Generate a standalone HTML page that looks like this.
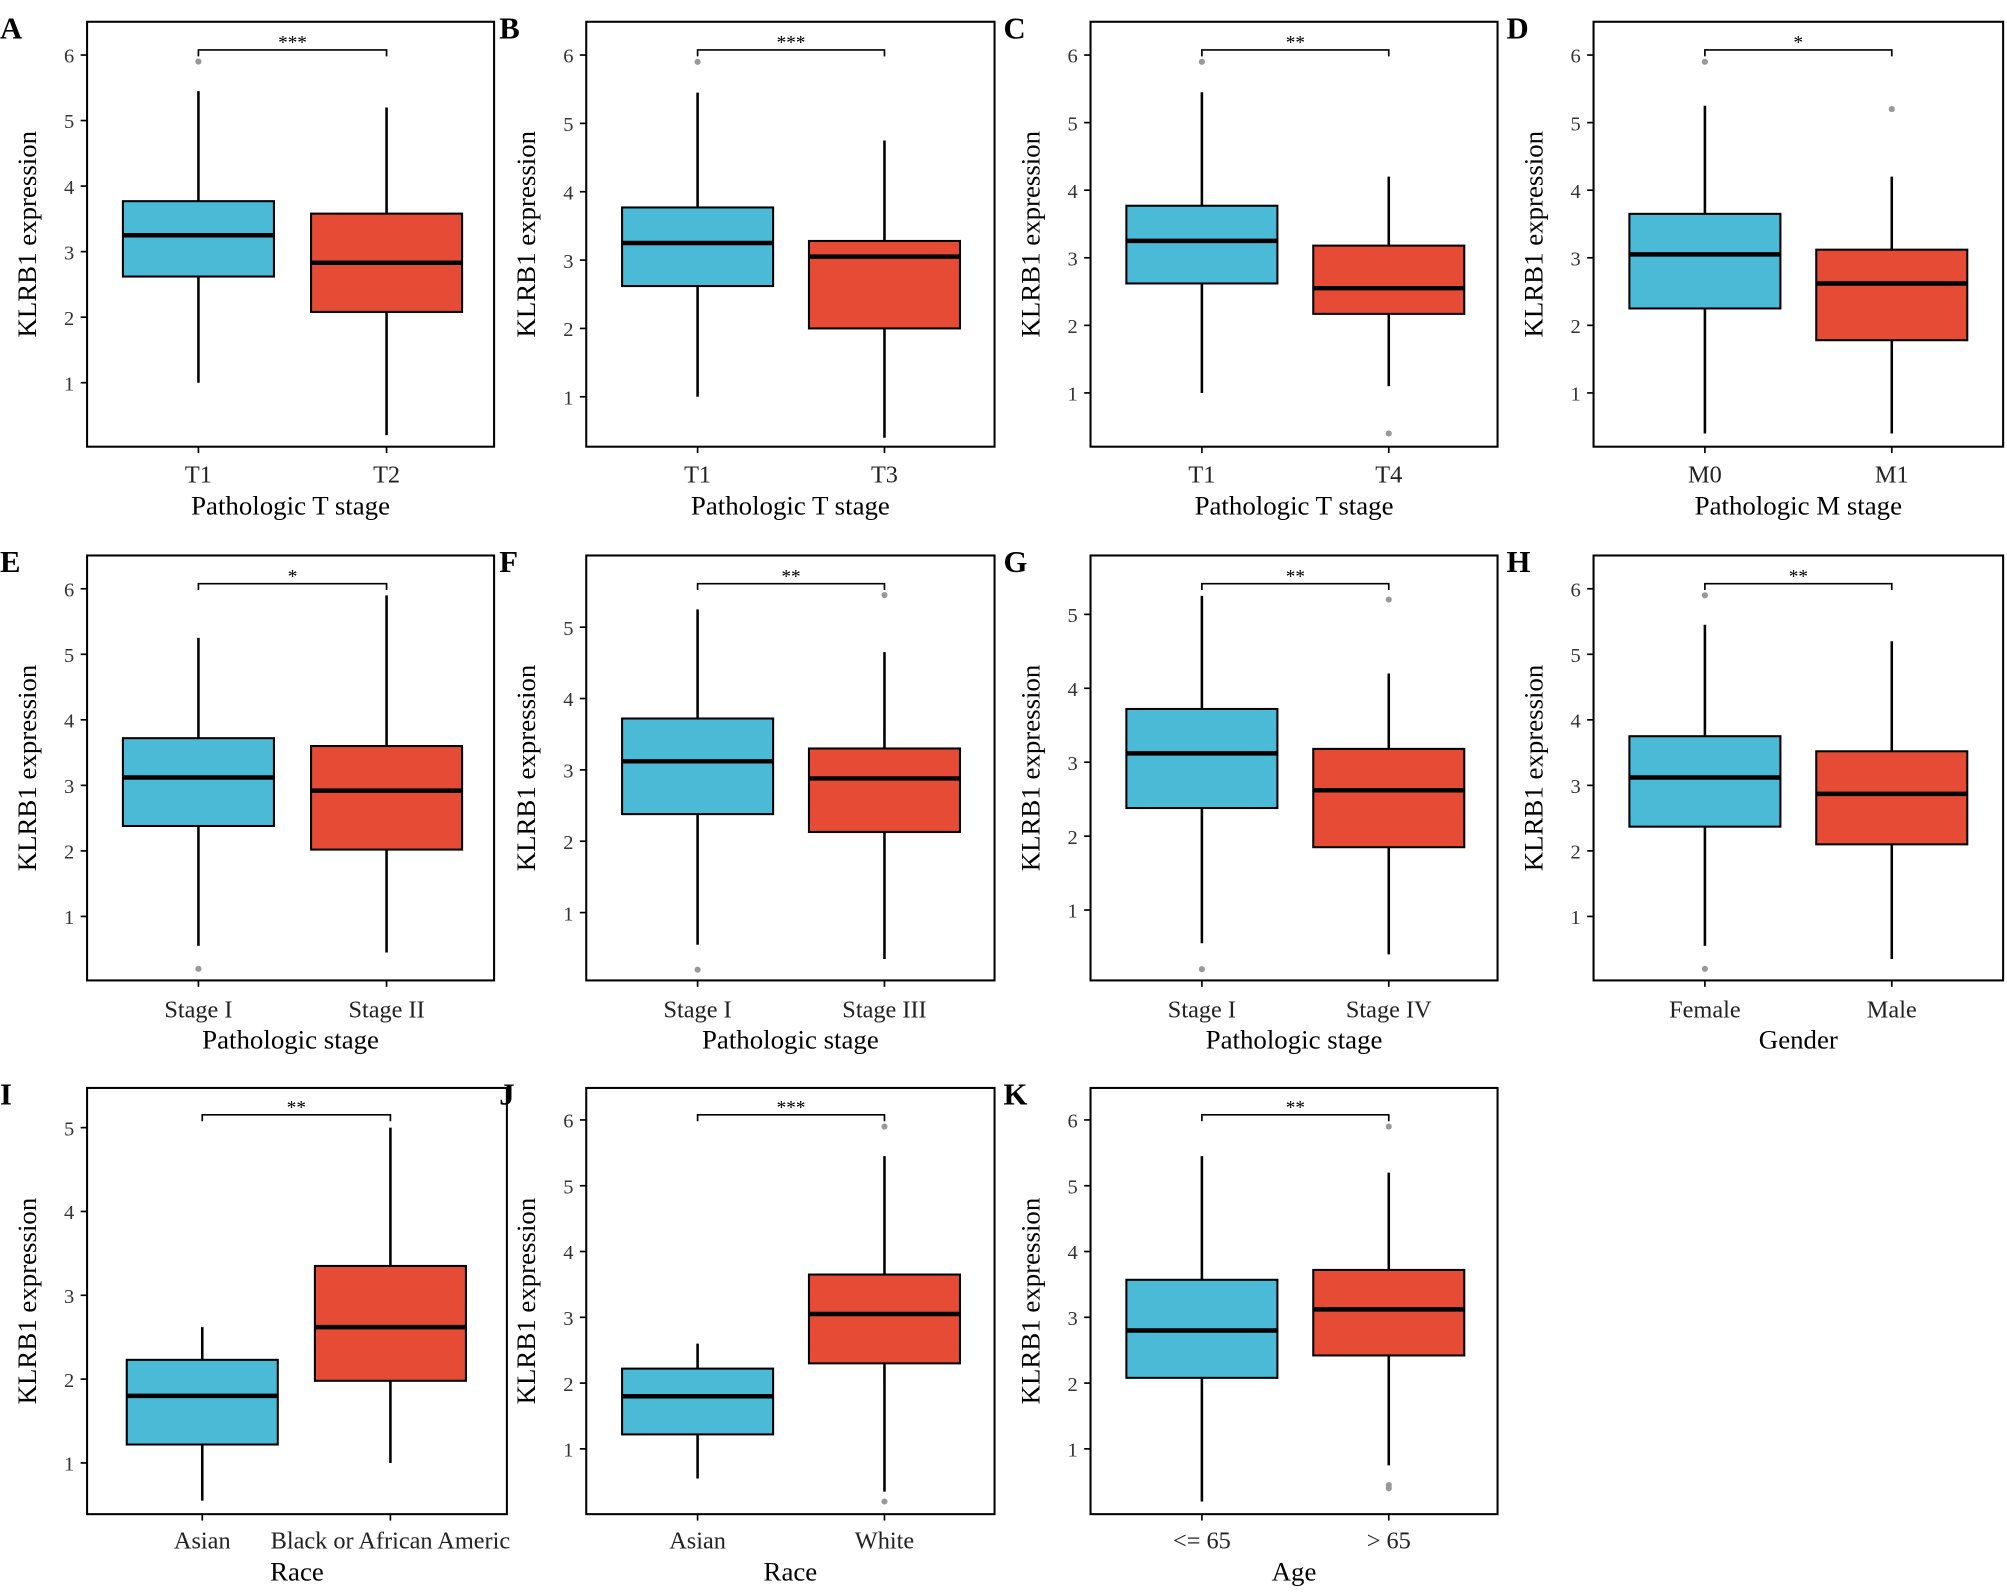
<!DOCTYPE html>
<html><head><meta charset="utf-8"><style>html,body{margin:0;padding:0;background:#fff}svg{display:block}</style></head>
<body>
<svg id="s" width="2007" height="1593" viewBox="0 0 1568 1244.6" xmlns="http://www.w3.org/2000/svg" font-family="Liberation Serif, serif"></svg>
<script>
const P=[
 {L:"A",x0:68,x1:386,row:0,c1:155,c2:302,y1:299,sc:51.2,ticks:[1,2,3,4,5,6],cats:["T1","T2"],xl:"Pathologic T stage",sig:"***",
  g:[[1.0,2.62,3.25,3.77,5.45,[5.9]],[0.2,2.08,2.83,3.58,5.2,[]]]},
 {L:"B",x0:458,x1:777,row:0,c1:545,c2:691,y1:310,sc:53.4,ticks:[1,2,3,4,5,6],cats:["T1","T3"],xl:"Pathologic T stage",sig:"***",
  g:[[1.0,2.62,3.25,3.77,5.45,[5.9]],[0.4,2.0,3.05,3.28,4.75,[]]]},
 {L:"C",x0:852,x1:1170,row:0,c1:939,c2:1085,y1:307,sc:52.8,ticks:[1,2,3,4,5,6],cats:["T1","T4"],xl:"Pathologic T stage",sig:"**",
  g:[[1.0,2.62,3.25,3.77,5.45,[5.9]],[1.1,2.17,2.55,3.18,4.2,[0.4]]]},
 {L:"D",x0:1245,x1:1565,row:0,c1:1332,c2:1478,y1:307,sc:52.8,ticks:[1,2,3,4,5,6],cats:["M0","M1"],xl:"Pathologic M stage",sig:"*",
  g:[[0.4,2.25,3.05,3.65,5.25,[5.9]],[0.4,1.78,2.62,3.12,4.2,[5.2]]]},
 {L:"E",x0:68,x1:386,row:1,c1:155,c2:302,y1:716,sc:51.2,ticks:[1,2,3,4,5,6],cats:["Stage I","Stage II"],xl:"Pathologic stage",sig:"*",
  g:[[0.55,2.38,3.12,3.72,5.25,[0.2]],[0.45,2.02,2.92,3.6,5.9,[]]]},
 {L:"F",x0:458,x1:777,row:1,c1:545,c2:691,y1:713,sc:55.75,ticks:[1,2,3,4,5],cats:["Stage I","Stage III"],xl:"Pathologic stage",sig:"**",
  g:[[0.55,2.38,3.12,3.72,5.25,[0.2]],[0.35,2.13,2.88,3.3,4.65,[5.45]]]},
 {L:"G",x0:852,x1:1170,row:1,c1:939,c2:1085,y1:711,sc:57.75,ticks:[1,2,3,4,5],cats:["Stage I","Stage IV"],xl:"Pathologic stage",sig:"**",
  g:[[0.55,2.38,3.12,3.72,5.25,[0.2]],[0.4,1.85,2.62,3.18,4.2,[5.2]]]},
 {L:"H",x0:1245,x1:1565,row:1,c1:1332,c2:1478,y1:716,sc:51.2,ticks:[1,2,3,4,5,6],cats:["Female","Male"],xl:"Gender",sig:"**",
  g:[[0.55,2.37,3.12,3.75,5.45,[5.9,0.2]],[0.35,2.1,2.87,3.52,5.2,[]]]},
 {L:"I",x0:68,x1:396,row:2,c1:158,c2:305,y1:1143,sc:65.5,ticks:[1,2,3,4,5],cats:["Asian","Black or African Americ"],xl:"Race",sig:"**",
  g:[[0.55,1.22,1.8,2.23,2.62,[]],[1.0,1.98,2.62,3.35,5.0,[]]]},
 {L:"J",x0:458,x1:777,row:2,c1:545,c2:691,y1:1132,sc:51.4,ticks:[1,2,3,4,5,6],cats:["Asian","White"],xl:"Race",sig:"***",
  g:[[0.55,1.22,1.8,2.22,2.6,[]],[0.35,2.3,3.05,3.65,5.45,[5.9,0.2]]]},
 {L:"K",x0:852,x1:1170,row:2,c1:939,c2:1085,y1:1132,sc:51.4,ticks:[1,2,3,4,5,6],cats:["<= 65","> 65"],xl:"Age",sig:"**",
  g:[[0.2,2.08,2.8,3.57,5.45,[]],[0.75,2.42,3.12,3.72,5.2,[5.9,0.45,0.4]]]},
];
const rows=[{t:17,b:349,br:39,tl:377,xt:402},{t:434,b:766,br:456,tl:795,xt:819},{t:850,b:1183,br:871,tl:1210,xt:1235}];
let h="";
const esc=s=>s.replace(/&/g,"&amp;").replace(/</g,"&lt;").replace(/>/g,"&gt;");
for(const p of P){
 const r=rows[p.row]; const Y=v=>p.y1-(v-1)*p.sc;
 h+=`<text x="${p.x0-68}" y="${r.t+13}" font-size="24" font-weight="bold">${p.L}</text>`;
 h+=`<rect x="${p.x0}" y="${r.t}" width="${p.x1-p.x0}" height="${r.b-r.t}" fill="none" stroke="#000" stroke-width="1.6"/>`;
 for(const t of p.ticks){const y=Y(t);h+=`<line x1="${p.x0-5}" x2="${p.x0}" y1="${y}" y2="${y}" stroke="#000" stroke-width="1.3"/><text x="${p.x0-10}" y="${y+6}" font-size="16" text-anchor="end" fill="#333">${t}</text>`;}
 const cy=(r.t+r.b)/2;
 h+=`<text transform="translate(${p.x0-40},${cy}) rotate(-90)" font-size="21" text-anchor="middle">KLRB1 expression</text>`;
 const cs=[p.c1,p.c2],cols=["#4BBAD6","#E64B35"];
 for(let i=0;i<2;i++){const c=cs[i],g=p.g[i],w=59;
  h+=`<line x1="${c}" x2="${c}" y1="${Y(g[0])}" y2="${Y(g[4])}" stroke="#000" stroke-width="2"/>`;
  h+=`<rect x="${c-w}" y="${Y(g[3])}" width="${2*w}" height="${Y(g[1])-Y(g[3])}" fill="${cols[i]}" stroke="#000" stroke-width="1.6"/>`;
  h+=`<line x1="${c-w}" x2="${c+w}" y1="${Y(g[2])}" y2="${Y(g[2])}" stroke="#000" stroke-width="3.5"/>`;
  for(const o of g[5])h+=`<circle cx="${c}" cy="${Y(o)}" r="2.4" fill="#999"/>`;
  h+=`<line x1="${c}" x2="${c}" y1="${r.b}" y2="${r.b+5}" stroke="#000" stroke-width="1.3"/>`;
  h+=`<text x="${c}" y="${r.tl}" font-size="19" text-anchor="middle" fill="#222">${esc(p.cats[i])}</text>`;
 }
 h+=`<polyline points="${p.c1},${r.br+5} ${p.c1},${r.br} ${p.c2},${r.br} ${p.c2},${r.br+5}" fill="none" stroke="#000" stroke-width="1.3"/>`;
 h+=`<text x="${(p.c1+p.c2)/2}" y="${r.br-1}" font-size="15" text-anchor="middle">${p.sig}</text>`;
 h+=`<text x="${(p.x0+p.x1)/2}" y="${r.xt}" font-size="21" text-anchor="middle">${p.xl}</text>`;
}
document.getElementById("s").innerHTML=h;
</script>
</body></html>
